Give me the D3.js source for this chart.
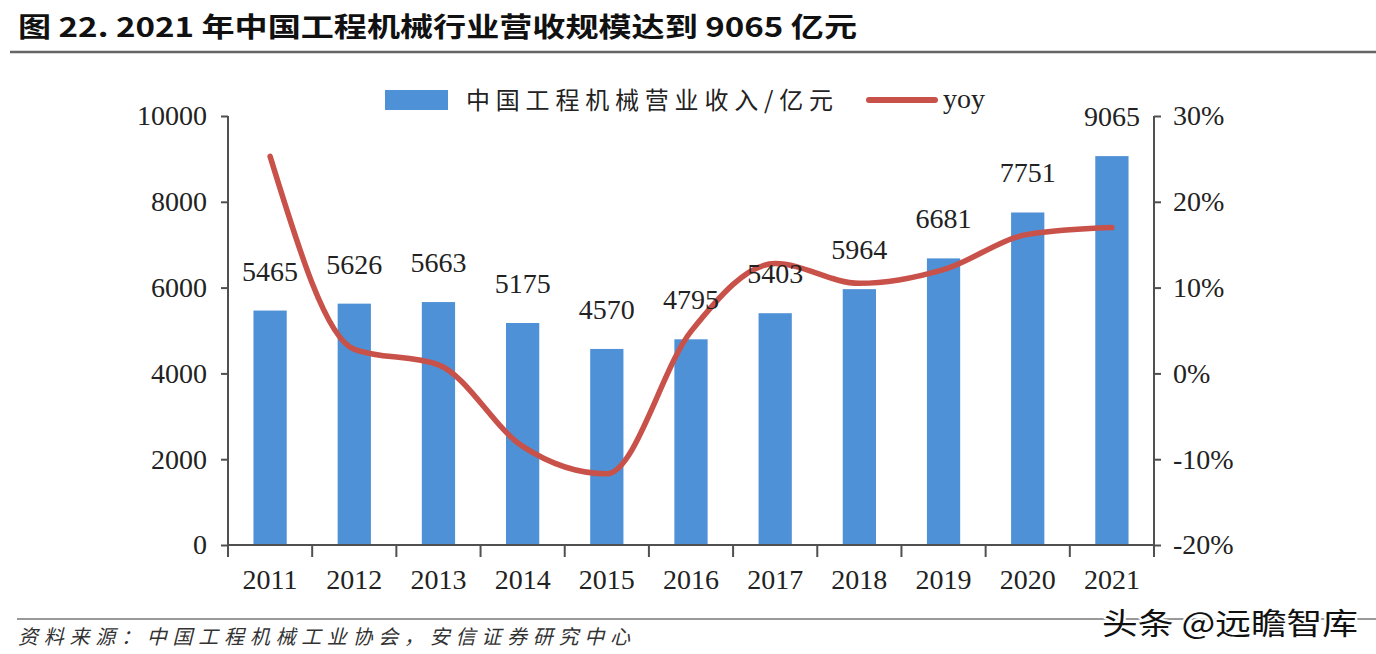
<!DOCTYPE html>
<html><head><meta charset="utf-8">
<script src="https://cdn.jsdelivr.net/npm/d3@7/dist/d3.min.js"></script>
<style>
html,body{margin:0;padding:0;background:#fff;}
svg{display:block;}
</style></head>
<body>
<script>
const categories = ["2011","2012","2013","2014","2015","2016","2017","2018","2019","2020","2021"];
const revenue = [5465,5626,5663,5175,4570,4795,5403,5964,6681,7751,9065];
const yoy = [25.3,2.8,1.0,-8.5,-11.7,4.9,12.8,10.5,12.1,16.2,17.0];
const leftTicks = [0,2000,4000,6000,8000,10000];
const rightTicks = [-20,-10,0,10,20,30];
const titleText = "图 22. 2021 年中国工程机械行业营收规模达到 9065 亿元";
const legendBar = "中国工程机械营业收入/亿元";
const legendLine = "yoy";
const sourceText = "资料来源：中国工程机械工业协会，安信证券研究中心";
const watermark = "头条 @远瞻智库";

const W = 1376, H = 654;
const svg = d3.select("body").append("svg").attr("width", W).attr("height", H);
svg.append("rect").attr("width", W).attr("height", H).attr("fill", "#fff");

const serif = "'Liberation Serif','Times New Roman',serif";
const cjk = "'Noto Sans CJK SC','Noto Sans',sans-serif";
const axisColor = "#505050";
const textColor = "#222";

// title
svg.append("text").attr("x", 18).attr("y", 37)
  .attr("font-family", cjk).attr("font-weight", 700).attr("font-size", 27)
  .attr("fill", "#111").attr("textLength", 839).attr("lengthAdjust", "spacingAndGlyphs")
  .text(titleText);
svg.append("line").attr("x1", 10).attr("x2", W).attr("y1", 52).attr("y2", 52)
  .attr("stroke", "#666").attr("stroke-width", 2.5);

// scales
const x = d3.scaleBand().domain(categories).range([228, 1154]).padding(0);
const yL = d3.scaleLinear().domain([0, 10000]).range([545, 116]);
const yR = d3.scaleLinear().domain([-20, 30]).range([545, 116]);
const barW = x.bandwidth() * 0.395;

// bars
svg.append("g").selectAll("rect").data(revenue).join("rect")
  .attr("x", (d, i) => x(categories[i]) + x.bandwidth() / 2 - barW / 2)
  .attr("y", d => yL(d))
  .attr("width", barW)
  .attr("height", d => yL(0) - yL(d))
  .attr("fill", "#4f91d6");

// left axis
const gL = svg.append("g").attr("transform", "translate(228,0)")
  .call(d3.axisLeft(yL).tickValues(leftTicks).tickSize(7).tickPadding(14).tickFormat(d3.format("d")));
gL.select(".domain").attr("stroke", axisColor).attr("stroke-width", 2).attr("d", "M0,116V557");
gL.selectAll(".tick line").attr("stroke", axisColor).attr("stroke-width", 2);
gL.selectAll(".tick text").attr("font-family", serif).attr("font-size", 28).attr("fill", textColor);

// right axis
const gR = svg.append("g").attr("transform", "translate(1154,0)")
  .call(d3.axisRight(yR).tickValues(rightTicks).tickSize(7).tickPadding(12).tickFormat(d => d + "%"));
gR.select(".domain").attr("stroke", axisColor).attr("stroke-width", 2).attr("d", "M0,116V557");
gR.selectAll(".tick line").attr("stroke", axisColor).attr("stroke-width", 2);
gR.selectAll(".tick text").attr("font-family", serif).attr("font-size", 28).attr("fill", textColor);

// bottom axis
const gB = svg.append("g").attr("transform", "translate(0,545)")
  .call(d3.axisBottom(x).tickSize(0).tickPadding(24));
gB.select(".domain").attr("stroke", axisColor).attr("stroke-width", 2).attr("d", "M228,0H1154");
gB.selectAll(".tick text").attr("font-family", serif).attr("font-size", 28).attr("fill", textColor);
const bounds = categories.map(c => x(c)).concat([x(categories[categories.length - 1]) + x.bandwidth()]);
gB.append("g").selectAll("line").data(bounds).join("line")
  .attr("x1", d => d).attr("x2", d => d).attr("y1", 0).attr("y2", 12)
  .attr("stroke", axisColor).attr("stroke-width", 2);

// line
const line = d3.line()
  .x((d, i) => x(categories[i]) + x.bandwidth() / 2)
  .y(d => yR(d))
  .curve(d3.curveMonotoneX);
svg.append("path").datum(yoy).attr("d", line)
  .attr("fill", "none").attr("stroke", "#c8524a").attr("stroke-width", 5.5)
  .attr("stroke-linecap", "round").attr("stroke-linejoin", "round");

// data labels
svg.append("g").selectAll("text").data(revenue).join("text")
  .attr("x", (d, i) => x(categories[i]) + x.bandwidth() / 2)
  .attr("y", d => yL(d) - 30)
  .attr("text-anchor", "middle")
  .attr("font-family", serif).attr("font-size", 28).attr("fill", textColor)
  .text(d => d);

// legend
svg.append("rect").attr("x", 385).attr("y", 90).attr("width", 63).attr("height", 20).attr("fill", "#4f91d6");
svg.append("text").attr("x", 466).attr("y", 109)
  .attr("font-family", cjk).attr("font-size", 24).attr("fill", textColor)
  .attr("textLength", 367).attr("lengthAdjust", "spacing")
  .text(legendBar);
svg.append("line").attr("x1", 869).attr("x2", 935).attr("y1", 100).attr("y2", 100)
  .attr("stroke", "#c8524a").attr("stroke-width", 6).attr("stroke-linecap", "round");
svg.append("text").attr("x", 943).attr("y", 108)
  .attr("font-family", serif).attr("font-size", 28).attr("fill", textColor)
  .text(legendLine);

// footer
svg.append("line").attr("x1", 17).attr("x2", W).attr("y1", 619).attr("y2", 619)
  .attr("stroke", "#777").attr("stroke-width", 1.5);
svg.append("text").attr("x", 18).attr("y", 644)
  .attr("font-family", cjk).attr("font-style", "italic").attr("font-size", 20).attr("fill", "#333")
  .attr("textLength", 612).attr("lengthAdjust", "spacing")
  .text(sourceText);

// watermark
const wm = svg.append("g");
wm.append("text").attr("x", 1102).attr("y", 634)
  .attr("font-family", cjk).attr("font-size", 30).attr("fill", "#fff")
  .attr("stroke", "#fff").attr("stroke-width", 4).attr("stroke-linejoin", "round")
  .attr("textLength", 256).attr("lengthAdjust", "spacingAndGlyphs")
  .text(watermark);
wm.append("text").attr("x", 1102).attr("y", 634)
  .attr("font-family", cjk).attr("font-size", 30).attr("fill", "#111")
  .attr("textLength", 256).attr("lengthAdjust", "spacingAndGlyphs")
  .text(watermark);
</script>
</body></html>
